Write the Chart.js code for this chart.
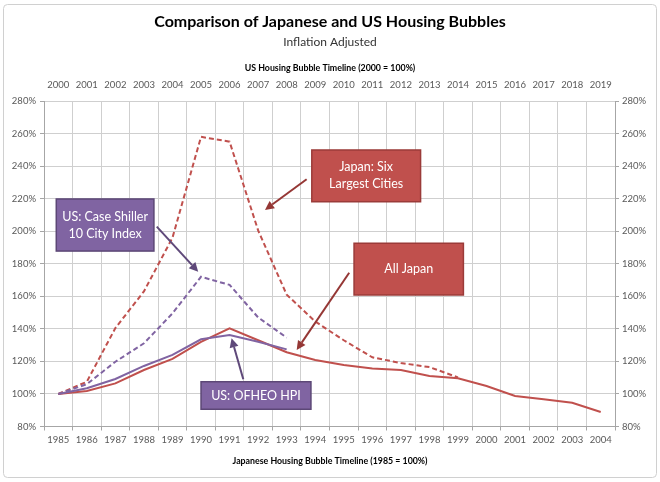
<!DOCTYPE html>
<html><head><meta charset="utf-8">
<style>html,body{margin:0;padding:0;background:#fff;} canvas{display:block;}</style>
<script src="https://cdn.jsdelivr.net/npm/chart.js@4.4.1/dist/chart.umd.min.js"></script>
</head><body>
<canvas id="c" width="660" height="482"></canvas>
<script>
// ---- data ----
const japanYears = ['1985','1986','1987','1988','1989','1990','1991','1992','1993','1994','1995','1996','1997','1998','1999','2000','2001','2002','2003','2004'];
const usYears = ['2000','2001','2002','2003','2004','2005','2006','2007','2008','2009','2010','2011','2012','2013','2014','2015','2016','2017','2018','2019'];
const japanSixCities = [100,107.5,140.5,163,196,258,255,200.5,161,144.5,133,122.5,119,116.5,110.2];
const allJapan = [100,101.8,106.5,114.7,121.5,132,140.3,133,125.6,120.9,117.8,115.7,114.7,111,109.6,104.9,98.7,96.7,94.6,88.9];
const usCaseShiller = [100,106,119.8,131.1,149.5,172,167,147,134.6];
const usOfheo = [100,103.5,109.2,117.2,124,133.6,136.2,132.1,127.4];
const yMin = 80, yMax = 280, yStep = 20;

const titleText = 'Comparison of Japanese and US Housing Bubbles';
const subtitleText = 'Inflation Adjusted';
const topAxisTitle = 'US Housing Bubble Timeline (2000 = 100%)';
const bottomAxisTitle = 'Japanese Housing Bubble Timeline (1985 = 100%)';

// callouts in data units (category index, percent)
const callouts = [
  {lines:['Japan: Six','Largest Cities'], x0:8.88, x1:12.69, y0:249.9, y1:218.1, fill:'#c0504d', edge:'#9b3b39', arrow:'#953735', from:[8.70,231.9], to:[7.24,213.1]},
  {lines:['US: Case Shiller','10 City Index'], x0:-0.07, x1:3.35, y0:219.8, y1:187.8, fill:'#8064a2', edge:'#5c4776', arrow:'#5f497a', from:[3.45,202.8], to:[4.90,175.1]},
  {lines:['All Japan'], x0:10.36, x1:14.19, y0:192.6, y1:160.8, fill:'#c0504d', edge:'#9b3b39', arrow:'#953735', from:[10.19,174.5], to:[8.35,127]},
  {lines:['US: OFHEO HPI'], x0:5.0, x1:8.85, y0:107.5, y1:90.6, fill:'#8064a2', edge:'#5c4776', arrow:'#5f497a', from:[6.48,109], to:[6.07,134.2]}
];

const FONT = "Lato, 'Open Sans', sans-serif";
const RED = '#c0504d', PURPLE = '#8064a2';

function drawArrow(ctx, x1, y1, x2, y2, color){
  const ang = Math.atan2(y2-y1, x2-x1), hl = 9, hw = 4.5;
  const bx = x2 - hl*Math.cos(ang), by = y2 - hl*Math.sin(ang);
  ctx.save();
  ctx.strokeStyle = color; ctx.fillStyle = color; ctx.lineWidth = 2;
  ctx.beginPath(); ctx.moveTo(x1,y1); ctx.lineTo(bx,by); ctx.stroke();
  ctx.beginPath(); ctx.moveTo(x2,y2);
  ctx.lineTo(bx + hw*Math.sin(ang), by - hw*Math.cos(ang));
  ctx.lineTo(bx - hw*Math.sin(ang), by + hw*Math.cos(ang));
  ctx.closePath(); ctx.fill();
  ctx.restore();
}

const decor = {
  id:'decor',
  beforeDraw(chart){
    const ctx = chart.ctx;
    ctx.save();
    ctx.fillStyle = '#fff'; ctx.fillRect(0,0,chart.width,chart.height);
    ctx.strokeStyle = '#d0d0d0'; ctx.lineWidth = 1;
    ctx.beginPath();
    if (ctx.roundRect) ctx.roundRect(3.5,4.5,653,473,4); else ctx.rect(3.5,4.5,653,473);
    ctx.stroke();
    ctx.restore();
  },
  afterDatasetsDraw(chart){
    const ctx = chart.ctx, xs = chart.scales.x, ys = chart.scales.y;
    callouts.forEach(c => {
      const fx = xs.getPixelForValue(c.from[0]), fy = ys.getPixelForValue(c.from[1]);
      const tx = xs.getPixelForValue(c.to[0]), ty = ys.getPixelForValue(c.to[1]);
      drawArrow(ctx, fx, fy, tx, ty, c.arrow);
      const l = xs.getPixelForValue(c.x0), r = xs.getPixelForValue(c.x1);
      const t = ys.getPixelForValue(c.y0), b = ys.getPixelForValue(c.y1);
      ctx.save();
      ctx.fillStyle = c.fill; ctx.fillRect(l,t,r-l,b-t);
      ctx.strokeStyle = c.edge; ctx.lineWidth = 1.5; ctx.strokeRect(l,t,r-l,b-t);
      ctx.fillStyle = '#fff'; ctx.font = '12.5px ' + FONT;
      ctx.textAlign = 'center'; ctx.textBaseline = 'middle';
      const cx = (l+r)/2, cy = (t+b)/2, lh = 17;
      c.lines.forEach((s,i) => ctx.fillText(s, cx, cy + (i - (c.lines.length-1)/2)*lh));
      ctx.restore();
    });
  },
  afterDraw(chart){
    const ctx = chart.ctx, cx = chart.width/2;
    ctx.save();
    ctx.textAlign = 'center'; ctx.textBaseline = 'middle';
    ctx.fillStyle = '#000'; ctx.font = 'bold 16px ' + FONT; ctx.fillText(titleText, cx, 22);
    ctx.fillStyle = '#333'; ctx.font = '12px ' + FONT; ctx.fillText(subtitleText, cx, 42);
    ctx.fillStyle = '#000'; ctx.font = 'bold 8.8px ' + FONT; ctx.fillText(topAxisTitle, cx, 68);
    ctx.fillText(bottomAxisTitle, cx, 461);
    ctx.restore();
  }
};

const tickFont = {family: FONT, size: 9.5};
const tickColor = '#595959';
const gridColor = '#cfcfcf';
const axisColor = '#a6a6a6';
const pct = v => v + '%';

new Chart(document.getElementById('c'), {
  type:'line',
  data:{
    labels: japanYears,
    datasets:[
      {label:'US: OFHEO HPI', data:usOfheo, borderColor:PURPLE, borderWidth:2},
      {label:'All Japan', data:allJapan, borderColor:RED, borderWidth:2},
      {label:'US: Case Shiller 10 City Index', data:usCaseShiller, borderColor:PURPLE, borderWidth:2, borderDash:[5,3]},
      {label:'Japan: Six Largest Cities', data:japanSixCities, borderColor:RED, borderWidth:2, borderDash:[5,3]}
    ]
  },
  options:{
    responsive:false, animation:false, devicePixelRatio:1,
    layout:{padding:0},
    elements:{point:{radius:0}, line:{tension:0, borderCapStyle:'butt'}},
    plugins:{legend:{display:false}, tooltip:{enabled:false}, title:{display:false}},
    scales:{
      x:{type:'category', position:'bottom', offset:true,
         grid:{offset:true, color:gridColor, tickLength:4, tickColor:axisColor},
         border:{color:axisColor},
         ticks:{font:tickFont, color:tickColor, padding:4, maxRotation:0, autoSkip:false},
         afterFit(s){ s.height = 55.5; }},
      x2:{type:'category', position:'top', labels: usYears, offset:true,
         grid:{display:false, drawTicks:false},
         border:{display:false},
         ticks:{font:tickFont, color:tickColor, padding:10, maxRotation:0, autoSkip:false},
         afterFit(s){ s.height = 101; }},
      y:{position:'left', min:yMin, max:yMax,
         grid:{color:gridColor, tickLength:4, tickColor:axisColor},
         border:{color:axisColor},
         ticks:{stepSize:yStep, font:tickFont, color:tickColor, padding:4, callback:pct},
         afterFit(s){ s.width = 44; }},
      y2:{position:'right', min:yMin, max:yMax,
         grid:{drawOnChartArea:false, tickLength:4, tickColor:axisColor},
         border:{color:axisColor},
         ticks:{stepSize:yStep, font:tickFont, color:tickColor, padding:3, callback:pct},
         afterFit(s){ s.width = 45; }}
    }
  },
  plugins:[decor]
});
</script>
</body></html>
